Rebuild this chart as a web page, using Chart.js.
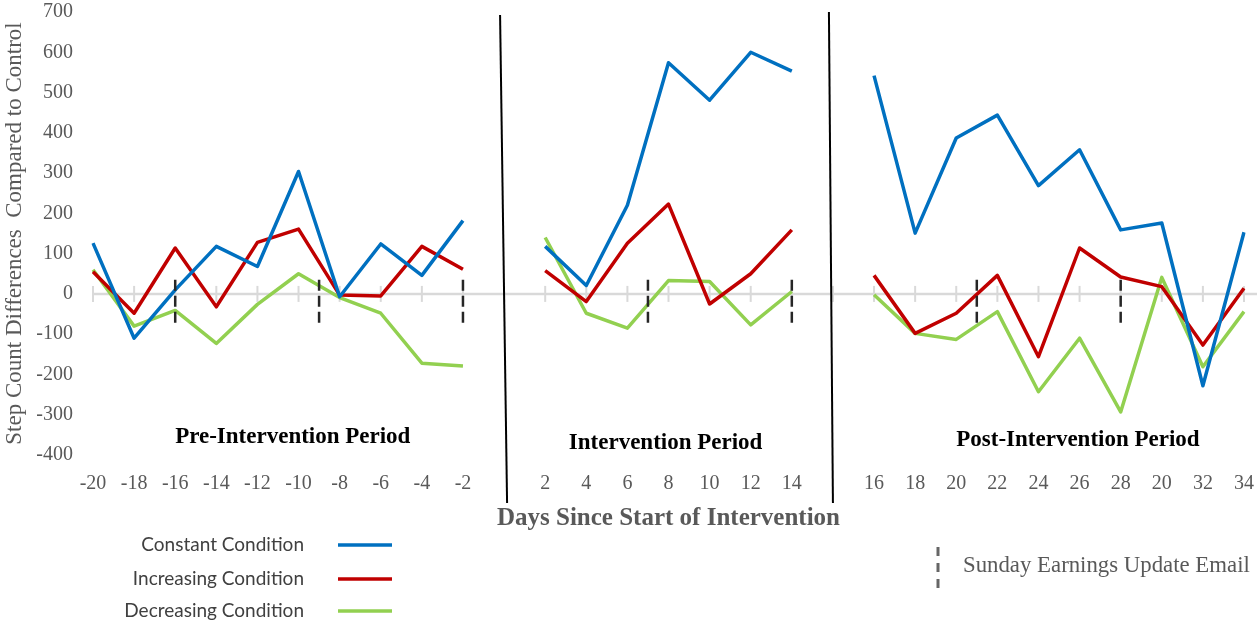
<!DOCTYPE html>
<html>
<head>
<meta charset="utf-8">
<script src="https://cdn.jsdelivr.net/npm/chart.js@4/dist/chart.umd.min.js"></script>
<style>
  html, body { margin: 0; padding: 0; background: #ffffff; }
  #wrap { width: 1257px; height: 624px; position: relative; }
</style>
</head>
<body>
<div id="wrap"><canvas id="c" width="1257" height="624"></canvas></div>
<script>
// ---- data ----
const categories = ['-20','-18','-16','-14','-12','-10','-8','-6','-4','-2','',
                    '2','4','6','8','10','12','14','',
                    '16','18','20','22','24','26','28','20','32','34'];
const constantCondition   = [126,-110,10,118,68,304,-7,124,46,182, null,
                             118,21,220,574,481,600,553, null,
                             542,151,387,444,269,358,159,176,-228,153];
const increasingCondition = [55,-48,114,-32,128,161,-3,-5,118,61, null,
                             58,-19,126,223,-25,50,159, null,
                             46,-98,-48,46,-156,114,42,18,-127,14];
const decreasingCondition = [60,-80,-41,-123,-26,50,-9,-48,-172,-179, null,
                             140,-48,-85,33,31,-77,6, null,
                             -2,-98,-113,-44,-243,-110,-293,41,-181,-44];
const seriesNames = ['Constant Condition','Increasing Condition','Decreasing Condition'];
const sundayEmailDays = [-16, -9, -2, 7, 14, 21, 28];
const periodNames = ['Pre-Intervention Period','Intervention Period','Post-Intervention Period'];
const yTicks = {min: -400, max: 700, step: 100};

// map a day number onto the category index (gaps between periods)
function dayToIndex(d) {
  if (d < 0) return (d + 20) / 2;
  if (d <= 14) return 11 + (d - 2) / 2;
  return 19 + (d - 16) / 2;
}

const SERIF = '"Liberation Serif", "Times New Roman", serif';

const annot = {
  id: 'annot',
  beforeDatasetsDraw(chart) {
    const {ctx, scales: {x, y}} = chart;
    const y0 = y.getPixelForValue(0);
    ctx.save();
    ctx.strokeStyle = '#d9d9d9';
    ctx.lineWidth = 2.5;
    ctx.beginPath();
    ctx.moveTo(x.getPixelForValue(0), y0);
    ctx.lineTo(chart.width, y0);
    ctx.stroke();
    ctx.lineWidth = 2;
    for (let i = 0; i < categories.length; i++) {
      const px = x.getPixelForValue(i);
      ctx.beginPath(); ctx.moveTo(px, y0 - 8); ctx.lineTo(px, y0 + 8); ctx.stroke();
    }
    ctx.restore();
  },
  afterDatasetsDraw(chart) {
    const {ctx, scales: {x, y}, chartArea} = chart;
    ctx.save();
    // period dividers
    ctx.strokeStyle = '#000';
    ctx.lineWidth = 2;
    const divs = [{i: 10, t: -4, b: 3, top: chartArea.top + 3}, {i: 18, t: -4, b: 0, top: chartArea.top}];
    divs.forEach(d => {
      const px = x.getPixelForValue(d.i);
      ctx.beginPath();
      ctx.moveTo(px + d.t, d.top);
      ctx.lineTo(px + d.b, chartArea.bottom + 48);
      ctx.stroke();
    });
    // Sunday email dashed markers
    ctx.strokeStyle = '#262626';
    ctx.lineWidth = 2.5;
    ctx.setLineDash([11, 5]);
    sundayEmailDays.forEach(d => {
      const px = x.getPixelForValue(dayToIndex(d));
      ctx.beginPath();
      ctx.moveTo(px, y.getPixelForValue(35));
      ctx.lineTo(px, y.getPixelForValue(-77));
      ctx.stroke();
    });
    ctx.setLineDash([]);
    // period labels
    ctx.fillStyle = '#000';
    ctx.font = 'bold 23px ' + SERIF;
    ctx.textAlign = 'center';
    ctx.textBaseline = 'middle';
    const pos = [[4.86, -355], [13.93, -370], [23.96, -362]];
    periodNames.forEach((n, k) => {
      ctx.fillText(n, x.getPixelForValue(pos[k][0]), y.getPixelForValue(pos[k][1]));
    });
    // legend (series)
    ctx.font = '19px Lato, "Open Sans", sans-serif';
    ctx.fillStyle = '#404040';
    ctx.textAlign = 'right';
    const ly = [545, 579, 611];
    chart.data.datasets.forEach((ds, k) => {
      ctx.fillText(ds.label, 304, ly[k]);
      ctx.strokeStyle = ds.borderColor;
      ctx.lineWidth = 3.5;
      ctx.beginPath(); ctx.moveTo(338, ly[k]); ctx.lineTo(392, ly[k]); ctx.stroke();
    });
    // legend (Sunday email)
    ctx.strokeStyle = '#666';
    ctx.lineWidth = 3;
    ctx.setLineDash([9, 7]);
    ctx.beginPath(); ctx.moveTo(938, 547); ctx.lineTo(938, 594); ctx.stroke();
    ctx.setLineDash([]);
    ctx.fillStyle = '#595959';
    ctx.font = '22.8px ' + SERIF;
    ctx.textAlign = 'left';
    ctx.fillText('Sunday Earnings Update Email', 963, 566);
    ctx.restore();
  }
};

const colors = ['#0070C0', '#C00000', '#92D050'];
const seriesData = [constantCondition, increasingCondition, decreasingCondition];

new Chart(document.getElementById('c'), {
  type: 'line',
  data: {
    labels: categories,
    datasets: seriesData.map((d, k) => ({
      label: seriesNames[k],
      data: d,
      borderColor: colors[k],
      backgroundColor: colors[k],
      borderWidth: 3.5,
      pointRadius: 0,
      tension: 0,
      spanGaps: false,
      borderJoinStyle: 'round'
    }))
  },
  options: {
    responsive: false,
    animation: false,
    layout: {padding: {left: 0, right: 13, top: 12, bottom: 90}},
    plugins: {legend: {display: false}, tooltip: {enabled: false}},
    scales: {
      x: {
        type: 'category',
        offset: false,
        grid: {display: false, drawTicks: false},
        border: {display: false},
        ticks: {autoSkip: false, maxRotation: 0, padding: 17, color: '#595959',
                font: {family: SERIF, size: 20}},
        title: {display: true, text: 'Days Since Start of Intervention', color: '#595959',
                font: {family: SERIF, size: 25, weight: 'bold'}, padding: {top: 0, bottom: 0}},
        afterFit(s) { s.height = 79; s.paddingLeft = 0; s.paddingRight = 0; }
      },
      y: {
        min: yTicks.min, max: yTicks.max,
        grid: {display: false, drawTicks: false},
        border: {display: false},
        ticks: {stepSize: yTicks.step, padding: 20, color: '#595959',
                font: {family: SERIF, size: 20}},
        title: {display: true, text: 'Step Count Differences  Compared to Control', color: '#595959',
                font: {family: SERIF, size: 23}, padding: {top: 1, bottom: 0}},
        afterFit(s) { s.width = 93; s.paddingTop = 0; s.paddingBottom = 0; }
      }
    }
  },
  plugins: [annot]
});
</script>
</body>
</html>
